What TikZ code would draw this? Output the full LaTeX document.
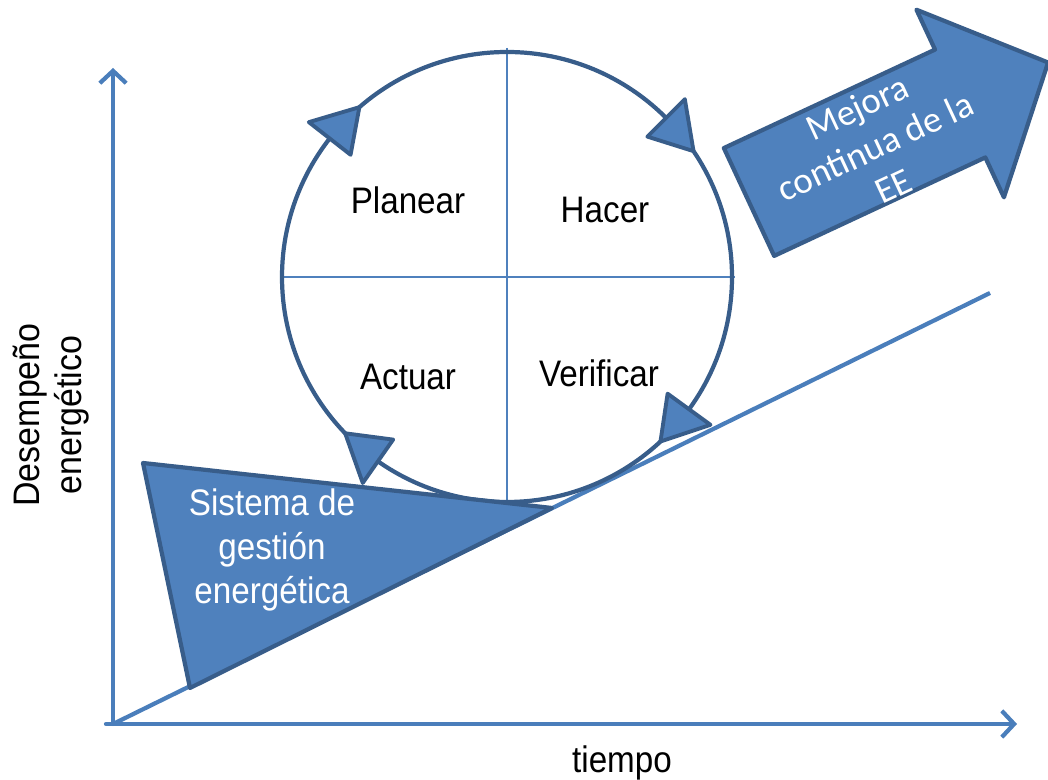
\documentclass[tikz,border=0pt]{standalone}
\usepackage{fontspec}
\setmainfont{Liberation Sans}
\newfontfamily\calibri{Carlito}
\usetikzlibrary{calc,arrows,arrows.meta,positioning}
\definecolor{shapeblue}{HTML}{4F81BD}
\definecolor{edgeblue}{HTML}{385D8A}
\definecolor{axisblue}{HTML}{4A7EBB}
\tikzstyle{axisArrow} = [line width=1.2pt, axisblue, line cap=round, -{Straight Barb[length=3.5pt,width=7.5pt]}]
\tikzstyle{blueShape} = [fill=shapeblue, draw=edgeblue, line width=1.2pt, line join=round]
\tikzstyle{cycleTip} = [fill=shapeblue, draw=edgeblue, line width=1.1pt, line join=round]
\tikzstyle{pdcaLabel} = [font=\fontsize{10.5}{12.6}\selectfont, align=center, xscale=0.9]

\begin{document}
\begin{tikzpicture}
      \useasboundingbox (0,0) rectangle (10.48,7.80);
      \coordinate (origin) at (1.13,0.56);
      \coordinate (ytop) at (1.13,7.12);
      \coordinate (xend) at (10.17,0.56);
      \coordinate (slopeEnd) at (9.90,4.87);
      \coordinate (center) at (5.07,5.03);
      % axes and trend line
      \draw[axisArrow] (origin) -- (ytop);
      \draw[axisArrow] (1.06,0.56) -- (xend);
      \draw[axisblue, line width=1.2pt] (origin) -- (slopeEnd);
      % PDCA cycle
      \draw[shapeblue, line width=0.4pt] (5.07,7.32) -- (5.07,2.78);
      \draw[shapeblue, line width=0.4pt] (2.84,5.03) -- (7.35,5.03);
      \draw[edgeblue, line width=1.2pt] (center) circle (2.25);
      % wedge
      \draw[blueShape] (1.43,3.17) -- (5.52,2.72) -- (1.90,0.92) -- cycle;
      \foreach \a in {131,34,-47,224}
        \draw[cycleTip] ($(center)+(\a:2.25)$) -- ($(center)+(\a+11:2.515)$) -- ($(center)+(\a+11:1.985)$) -- cycle;
      % improvement arrow
      \begin{scope}[shift={(7.49,5.78)}, rotate=25]
        \draw[blueShape] (0,0.595) -- (2.33,0.595) -- (2.33,1.035) -- (3.30,0) -- (2.33,-1.035) -- (2.33,-0.595) -- (0,-0.595) -- cycle;
        \node[rotate=25, white, align=center, font=\calibri\fontsize{10.5}{12.3}\selectfont] (mejora) at (1.38,-0.03) {Mejora\\continua de la\\EE};
      \end{scope}
      % labels
      \node[pdcaLabel] (planear) at (4.08,5.80) {Planear};
      \node[pdcaLabel] (hacer) at (6.05,5.70) {Hacer};
      \node[pdcaLabel] (actuar) at (4.08,4.03) {Actuar};
      \node[pdcaLabel] (verificar) at (5.99,4.07) {Verificar};
      \node[pdcaLabel, white] (sistema) at (2.72,2.30) {Sistema de\\gestión\\energética};
      \node[pdcaLabel, xscale=1/0.9, rotate=90, xscale=0.92, font=\fontsize{10.5}{12}\selectfont] (desempeno) at (0.51,3.65) {Desempeño\\energético};
      \node[pdcaLabel] (tiempo) at (6.22,0.17) {tiempo};
\end{tikzpicture}
\end{document}
